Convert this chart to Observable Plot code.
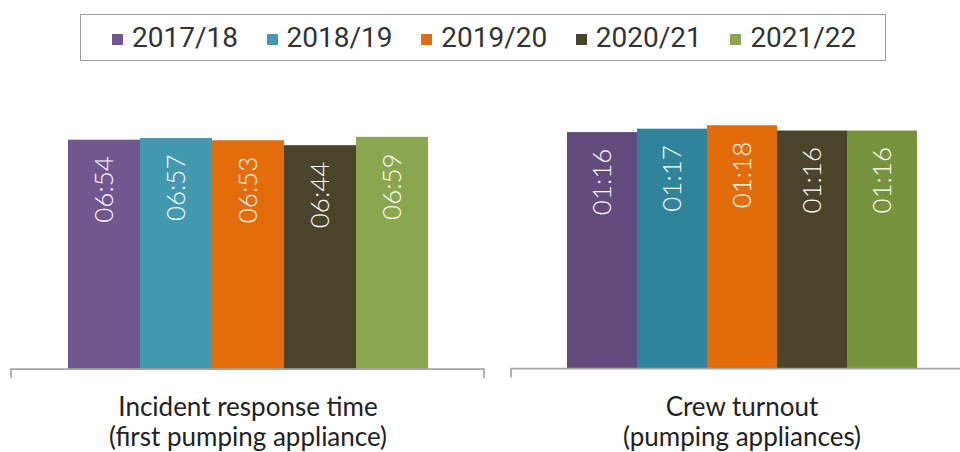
<!DOCTYPE html>
<html>
<head>
<meta charset="utf-8">
<script src="https://cdn.jsdelivr.net/npm/d3@7"></script>
<script src="https://cdn.jsdelivr.net/npm/@observablehq/plot@0.6"></script>
<style>
  html, body { margin: 0; padding: 0; background: #fff; }
  #wrap { position: relative; width: 960px; height: 452px; overflow: hidden; background: #fff; }
  #legend { position: absolute; left: 80px; top: 14px; width: 806px; height: 47px;
    border: 1.5px solid #a0a0a0; box-sizing: border-box; display: flex; align-items: center;
    padding-left: 31px; font-family: "Roboto", sans-serif; font-size: 28px; color: #333; }
  .item { width: 159px; display: flex; align-items: center; white-space: nowrap; }
  .sw { width: 11px; height: 11px; margin-right: 9px; margin-top: 4px; flex: none; }
  .panel { position: absolute; top: 80px; }
  .panel svg { max-width: none !important; }
</style>
</head>
<body>
<div id="wrap">
  <div id="legend"></div>
  <div class="panel" id="p1" style="left:0px; width:490px"></div>
  <div class="panel" id="p2" style="left:500px; width:472px"></div>
</div>
<script>
// ---- data ----
const years = ["2017/18", "2018/19", "2019/20", "2020/21", "2021/22"];
const responseSeconds = [414, 417, 413, 404, 419];      // 06:54, 06:57, 06:53, 06:44, 06:59
const turnoutSeconds = [76.1, 77.2, 78.3, 76.6, 76.6];   // 01:16, 01:17, 01:18, 01:16, 01:16
const panelTitles = ["Incident response time\n(first pumping appliance)", "Crew turnout\n(pumping appliances)"];
const legendColors = ["#6f5591", "#4299b0", "#e46c0a", "#4a4529", "#8ba650"];
const responseColors = ["#71578f", "#4299b0", "#e46c0a", "#4a452a", "#8aa64e"];
const turnoutColors = ["#624a7c", "#2f849c", "#e26b0a", "#4a452a", "#77933c"];

// ---- helpers ----
const fmt = (s) => {
  const t = Math.floor(s);
  return String(Math.floor(t / 60)).padStart(2, "0") + ":" + String(t % 60).padStart(2, "0");
};

const legend = document.getElementById("legend");
years.forEach((y, i) => {
  const it = document.createElement("div");
  it.className = "item";
  it.innerHTML = `<span class="sw" style="background:${legendColors[i]}"></span><span>${y}</span>`;
  legend.appendChild(it);
});

function axisMark(index, scales, values, dims) {
  const y0 = scales.y(0);
  const x1 = dims.marginLeft, x2 = dims.width - dims.marginRight;
  const g = d3.create("svg:path")
    .attr("d", `M${x1},${y0 + 9}V${y0}H${x2}V${y0 + 9}`)
    .attr("fill", "none")
    .attr("stroke", "#a6a6a6")
    .attr("stroke-width", 1.75);
  return g.node();
}

function panel(values, colors, title, o) {
  const data = years.map((year, i) => ({year, value: values[i]}));
  return Plot.plot({
    width: o.width,
    height: 372,
    marginLeft: 11,
    marginRight: o.marginRight,
    marginTop: o.marginTop,
    marginBottom: o.marginBottom,
    x: {domain: years, paddingInner: 0, paddingOuter: 0.767, axis: null},
    y: {domain: [0, o.ymax], axis: null},
    color: {domain: years, range: colors},
    style: {background: "transparent", overflow: "visible", maxWidth: "none"},
    marks: [
      Plot.barY(data, {x: "year", y: "value", fill: "year"}),
      Plot.text(data, {x: "year", y: "value", text: (d) => fmt(d.value), rotate: -90,
        textAnchor: "end", dy: 16, fill: "#ffffff", fontSize: 26, fontWeight: 300,
        fontFamily: "Lato, 'Open Sans', sans-serif"}),
      axisMark,
      Plot.text([title], {frameAnchor: "bottom", lineAnchor: "middle", text: (d) => d, dy: 52,
        lineHeight: 1.15, fontSize: 26, fill: "#222", fontFamily: "Lato, 'Open Sans', sans-serif"})
    ]
  });
}

document.getElementById("p1").appendChild(
  panel(responseSeconds, responseColors, panelTitles[0], {width: 490, marginRight: 6, marginTop: 23.1, marginBottom: 83, ymax: 480})
);
document.getElementById("p2").appendChild(
  panel(turnoutSeconds, turnoutColors, panelTitles[1], {width: 472, marginRight: 0, marginTop: 8.9, marginBottom: 83.5, ymax: 90})
);
</script>
</body>
</html>
